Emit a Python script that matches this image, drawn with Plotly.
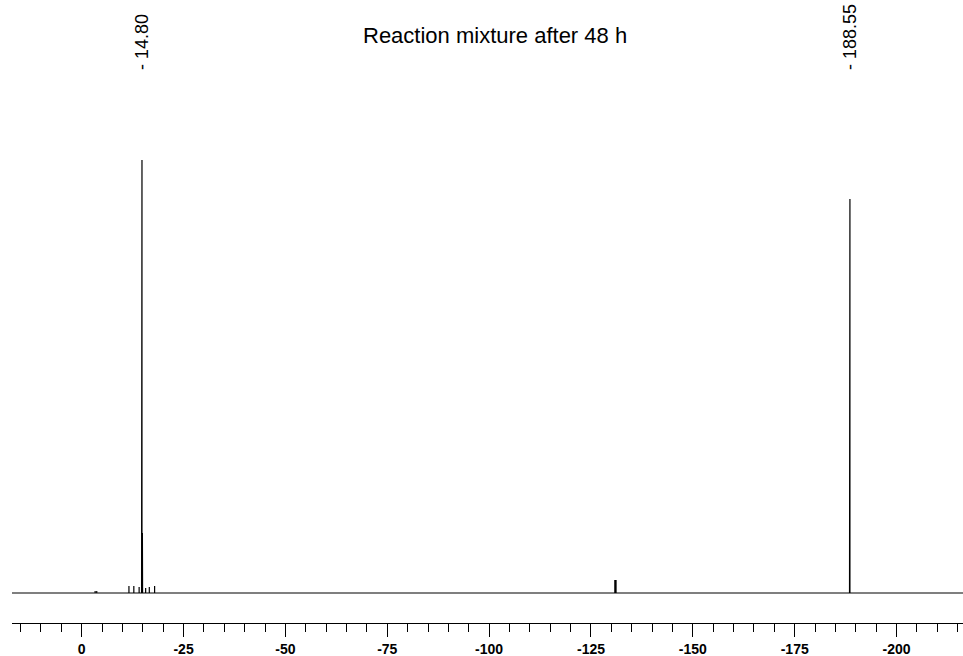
import plotly.graph_objects as go

# ---- data ----
title_text = "Reaction mixture after 48 h"

# peak positions (ppm) and intensities (arbitrary units)
peak_ppm = [-3.3, -3.7, -11.6, -12.8, -14.1, -14.70, -14.80, -14.90, -14.95,
            -15.7, -16.6, -17.9, -130.85, -131.15, -188.45, -188.50, -188.55]
peak_height = [2, 2, 7, 7, 6, 251, 433, 60, 26,
               5, 6, 7, 13, 13, 5, 76, 394]

label_ppm = [-14.80, -188.55]
label_text = ["- 14.80", "- 188.55"]

tick_vals = [0, -25, -50, -75, -100, -125, -150, -175, -200]
tick_text = ["0", "-25", "-50", "-75", "-100", "-125", "-150", "-175", "-200"]

x_left, x_right = 17.1, -216.3
y_low, y_high = -30, 443

# ---- build stick spectrum from the peak list ----
pairs = sorted(zip(peak_ppm, peak_height), key=lambda p: -p[0])
xs = [x_left]
ys = [0]
for p, h in pairs:
    xs += [p, p, p]
    ys += [0, h, 0]
xs.append(x_right)
ys.append(0)

fig = go.Figure()
fig.add_trace(go.Scatter(x=xs, y=ys, mode="lines",
                         line=dict(color="black", width=1.2),
                         hoverinfo="skip", showlegend=False))

W, H = 963, 656
ml, mr, mt, mb = 12, 0, 150, 33
plot_h = H - mt - mb

annotations = []
for p, t in zip(label_ppm, label_text):
    annotations.append(dict(x=p, xref="x", y=1 + 78 / plot_h, yref="paper",
                            text=t, textangle=-90, showarrow=False,
                            xanchor="center", yanchor="bottom",
                            font=dict(family="Liberation Sans, Arial", size=18, color="black")))
annotations.append(dict(x=(495 - ml) / (W - ml - mr), xref="paper",
                        y=1 + (mt - 36) / plot_h, yref="paper",
                        text=title_text, showarrow=False,
                        xanchor="center", yanchor="middle",
                        font=dict(family="Liberation Sans, Arial", size=22, color="black")))

fig.update_layout(
    width=W, height=H,
    margin=dict(l=ml, r=mr, t=mt, b=mb),
    paper_bgcolor="white", plot_bgcolor="white",
    annotations=annotations,
    xaxis=dict(range=[x_left, x_right], showgrid=False, zeroline=False,
               showline=True, linecolor="black", linewidth=1,
               ticks="outside", ticklen=13, tickcolor="black", tickwidth=1,
               tickmode="array", tickvals=tick_vals, ticktext=tick_text,
               tickfont=dict(family="Liberation Sans, Arial", size=14, color="black", weight="bold"),
               minor=dict(ticks="outside", ticklen=8, tickcolor="black", tickwidth=1,
                          tickmode="linear", tick0=0, dtick=5, showgrid=False),
               automargin=False),
    yaxis=dict(range=[y_low, y_high], visible=False, automargin=False),
)

fig.write_html("out.html", config={"displayModeBar": False},
               post_script="document.body.style.margin='0';document.body.style.overflow='hidden';")
